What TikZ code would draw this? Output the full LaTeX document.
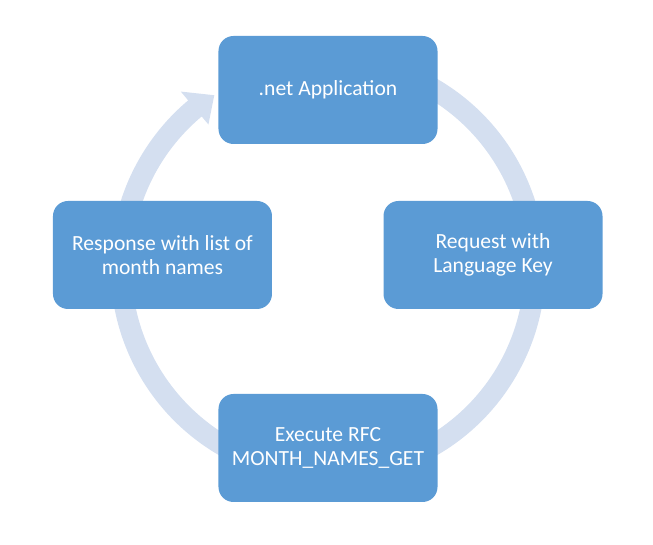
\documentclass[tikz,border=0pt]{standalone}
\usepackage{fontspec}
\setmainfont{Carlito}
\definecolor{boxblue}{RGB}{91,155,213}
\definecolor{ringblue}{RGB}{212,223,240}
\begin{document}
\begin{tikzpicture}[x=0.75pt,y=0.75pt,
  stage/.style={fill=boxblue,text=white,rounded corners=11.25pt,minimum width=164.25pt,minimum height=81pt,align=center,font=\fontsize{16.2pt}{18pt}\selectfont},
  ring/.style={fill=ringblue}]
  \useasboundingbox (-328,-278) rectangle (325,267);
  % circular arrow behind the steps
  \fill[ring] (60:217.5) arc[start angle=60,end angle=-230,radius=217.5]
    -- (130:229) -- (123.5:206) -- (130:186) -- (130:196.5)
    arc[start angle=-230,end angle=60,radius=196.5] -- cycle;
  \node[stage] (app) at (0,177) {.net Application};
  \node[stage] (req) at (165,12) {Request with\\Language Key};
  \node[stage] (rfc) at (0,-181) {Execute RFC\\MONTH\_NAMES\_GET};
  \node[stage] (resp) at (-165.5,12) {Response with list of\\month names};
\end{tikzpicture}
\end{document}
